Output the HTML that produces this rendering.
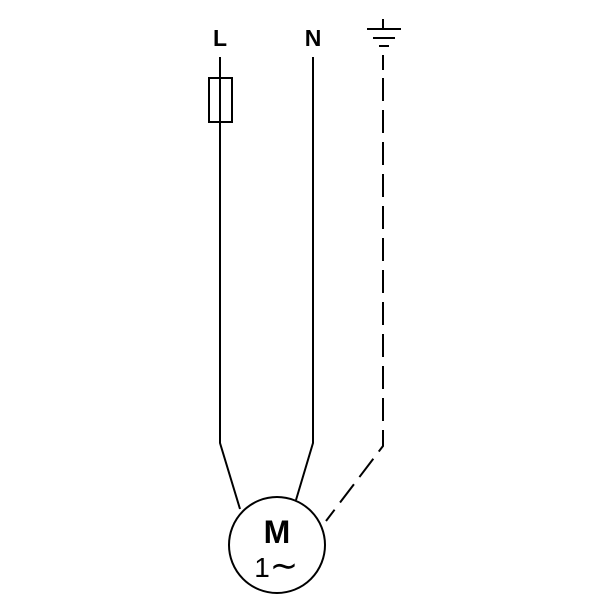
<!DOCTYPE html>
<html><head><style>body{margin:0;background:#fff}</style></head><body>
<svg width="600" height="606" xmlns="http://www.w3.org/2000/svg">
<g stroke="#000" stroke-width="2" fill="none">
<polyline points="220,57 220,443 240,509"/>
<rect x="209" y="78" width="23" height="44" fill="#fff"/>
<line x1="220" y1="78" x2="220" y2="122"/>
<polyline points="313,57 313,443 296,500"/>
<line x1="383" y1="19" x2="383" y2="29"/>
<line x1="367" y1="29" x2="401" y2="29"/>
<line x1="373" y1="38" x2="395" y2="38"/>
<line x1="379" y1="46" x2="389" y2="46"/>
<line x1="383" y1="55" x2="383" y2="70"/>
<polyline points="383,78 383,446 326,521" stroke-dasharray="23 9"/>
<circle cx="277" cy="545" r="48"/>
</g>
<g font-family="Liberation Sans, sans-serif" text-anchor="middle">
<text x="220" y="46" font-size="23" font-weight="bold">L</text>
<text x="313" y="46" font-size="23" font-weight="bold">N</text>
<text x="277" y="543" font-size="32" font-weight="bold">M</text>
<text x="262" y="577" font-size="28">1</text>
<text x="284" y="577" font-size="34">∼</text>
</g>
</svg>
</body></html>
